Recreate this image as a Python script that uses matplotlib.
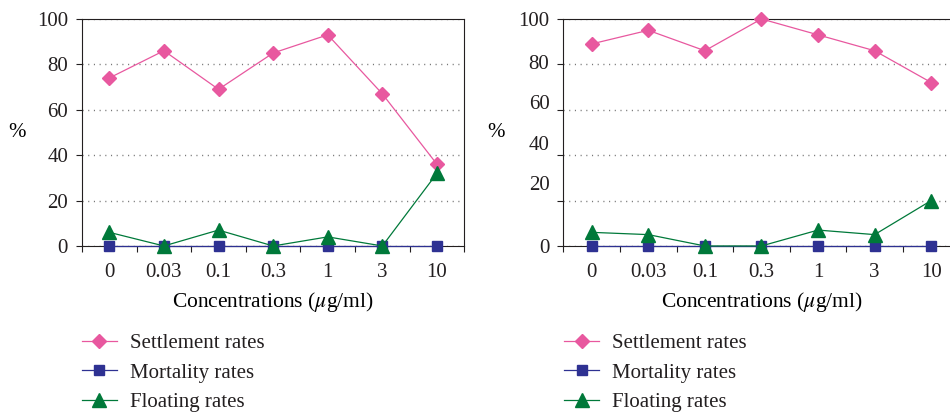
import numpy as np
import matplotlib
matplotlib.use("Agg")
import matplotlib.pyplot as plt

plt.rcParams['font.family'] = ['Liberation Serif', 'DejaVu Serif']
plt.rcParams['mathtext.fontset'] = 'stix'
plt.rcParams['font.size'] = 15
plt.rcParams['text.color'] = '#231f20'

# data
concentrations = ['0', '0.03', '0.1', '0.3', '1', '3', '10']
settle_a = [74, 86, 69, 85, 93, 67, 36]
mortal_a = [0, 0, 0, 0, 0, 0, 0]
float_a = [6, 0, 7, 0, 4, 0, 32]

settle_b = [89, 95, 86, 100, 93, 86, 72]
mortal_b = [0, 0, 0, 0, 0, 0, 0]
float_b = [6, 5, 0, 0, 7, 5, 20]

y_ticks = [0, 20, 40, 60, 80, 100]
# the right panel's y labels sit slightly off their ticks in the original
y_label_pos_b = [0, 27.6, 45.2, 63.6, 81.2, 100]

pink = '#e8589f'
navy = '#2e3192'
green = '#00793a'
ink = '#231f20'


def draw(ax, settle, mortal, floating, label_pos):
    x = np.arange(len(concentrations))
    ax.plot(x, settle, color=pink, lw=0.9, marker='D', ms=7, clip_on=False,
            zorder=3, label='Settlement rates')
    ax.plot(x, mortal, color=navy, lw=0.9, marker='s', ms=7.4, clip_on=False,
            zorder=4, label='Mortality rates')
    ax.plot(x, floating, color=green, lw=0.9, marker='^', ms=10, clip_on=False,
            zorder=5, label='Floating rates')

    ax.xaxis.remove_overlapping_locs = False
    ax.yaxis.remove_overlapping_locs = False

    ax.set_xlim(-0.5, len(concentrations) - 0.5)
    ax.set_ylim(0, 100)
    ax.set_xticks(x, labels=concentrations)
    ax.set_xticks(np.arange(len(concentrations) + 1) - 0.5, minor=True)
    ax.tick_params(axis='x', which='major', length=0, pad=12, colors=ink,
                   labelsize=15)
    ax.tick_params(axis='x', which='minor', length=4, width=0.8, direction='out',
                   color=ink)

    ax.set_yticks(y_ticks, labels=[''] * len(y_ticks))
    ax.set_yticks(label_pos, labels=[str(v) for v in y_ticks], minor=True)
    ax.tick_params(axis='y', which='major', length=4, width=0.8, direction='out',
                   color=ink)
    ax.tick_params(axis='y', which='minor', length=0, pad=10, colors=ink,
                   labelsize=15)
    ax.yaxis.grid(True, which='major', color='#777777', lw=1.0,
                  linestyle=(0, (0.8, 3.3)))
    ax.set_axisbelow(True)

    for s in ax.spines.values():
        s.set_linewidth(0.8)
        s.set_color(ink)

    ax.set_xlabel(r'Concentrations ($\mu$g/ml)', fontsize=15.5, labelpad=6)
    ax.set_ylabel('%', rotation=0, fontsize=15, va='center', ha='center')
    ax.yaxis.set_label_coords(-0.17, 0.5)


fig = plt.figure(figsize=(9.5, 4.12), dpi=100)
ax1 = fig.add_axes([0.0863, 0.403, 0.4024, 0.551])
ax2 = fig.add_axes([0.593, 0.403, 0.417, 0.551])

draw(ax1, settle_a, mortal_a, float_a, y_ticks)
draw(ax2, settle_b, mortal_b, float_b, y_label_pos_b)

for ax, x0 in [(ax1, 0.0863), (ax2, 0.5937)]:
    ax.legend(loc='upper left', bbox_to_anchor=(x0, 0.19),
              bbox_transform=fig.transFigure, frameon=False, borderpad=0,
              borderaxespad=0, handlelength=1.68, handletextpad=0.62,
              labelspacing=0.47, fontsize=15, numpoints=1)

fig.savefig('out.png', dpi=100)
